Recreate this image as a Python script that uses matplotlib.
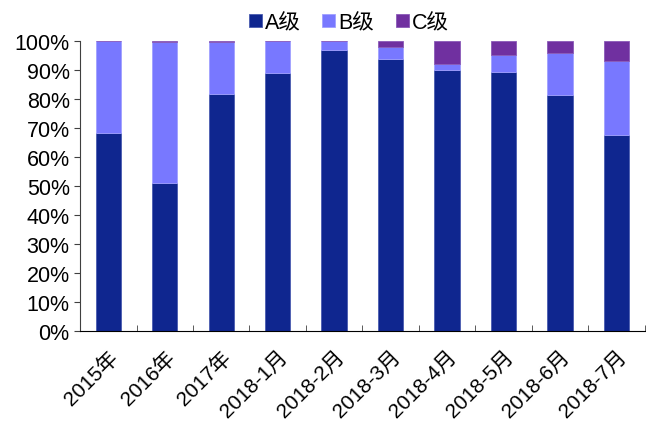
import numpy as np
import matplotlib
matplotlib.use('Agg')
import matplotlib.pyplot as plt
import matplotlib.ticker as plticker

plt.rcParams['font.family'] = ['Liberation Sans', 'Noto Sans CJK SC', 'DejaVu Sans']

categories = ['2015年', '2016年', '2017年', '2018-1月', '2018-2月', '2018-3月',
              '2018-4月', '2018-5月', '2018-6月', '2018-7月']
grade_a = [68.3, 51.2, 81.8, 89.0, 97.0, 93.8, 90.0, 89.4, 81.3, 67.7]
grade_b = [31.7, 48.3, 17.7, 11.0, 3.0, 4.0, 2.0, 5.8, 14.5, 25.3]
grade_c = [0.0, 0.5, 0.5, 0.0, 0.0, 2.2, 8.0, 4.8, 4.2, 7.0]

colors = ['#0f268f', '#7878ff', '#7030a0']
edges = ['#4a5cb0', '#a0a0ff', '#8a5ab8']

fig = plt.figure(figsize=(6.46, 4.27), dpi=100)
ax = fig.add_axes([0.124, 0.222, 0.874, 0.68])

x = np.arange(len(categories))
bottom = np.zeros(len(categories))
for vals, col, ec, lab in zip([grade_a, grade_b, grade_c], colors, edges, ['A级', 'B级', 'C级']):
    ax.bar(x, vals, width=0.45, bottom=bottom, color=col, edgecolor=ec, linewidth=0.6, label=lab)
    bottom += np.array(vals)

ax.set_xlim(-0.5, len(categories) - 0.5)
ax.set_ylim(0, 100)
ax.yaxis.set_major_locator(plticker.MultipleLocator(10))
ax.yaxis.set_major_formatter(plticker.FuncFormatter(lambda v, p: '%d%%' % v))

ax.set_xticks(x)
ax.set_xticklabels(categories, rotation=45, ha='right', rotation_mode='anchor', fontsize=15)
ax.tick_params(axis='x', which='major', length=0, pad=11)
ax.set_xticks(np.arange(-0.5, len(categories)), minor=True)
ax.tick_params(axis='x', which='minor', direction='in', length=4, color='#404040')
ax.tick_params(axis='y', labelsize=15.5, length=4, color='#404040')

for s in ['top', 'right']:
    ax.spines[s].set_visible(False)
ax.spines['left'].set_color('#404040')
ax.spines['bottom'].set_color('black')

fig.legend(loc='upper center', bbox_to_anchor=(0.54, 1.015), ncol=3, frameon=False,
           fontsize=15.5, handlelength=0.6, handleheight=0.6, handletextpad=0.15, columnspacing=1.0)

fig.savefig('out.png', dpi=100)
